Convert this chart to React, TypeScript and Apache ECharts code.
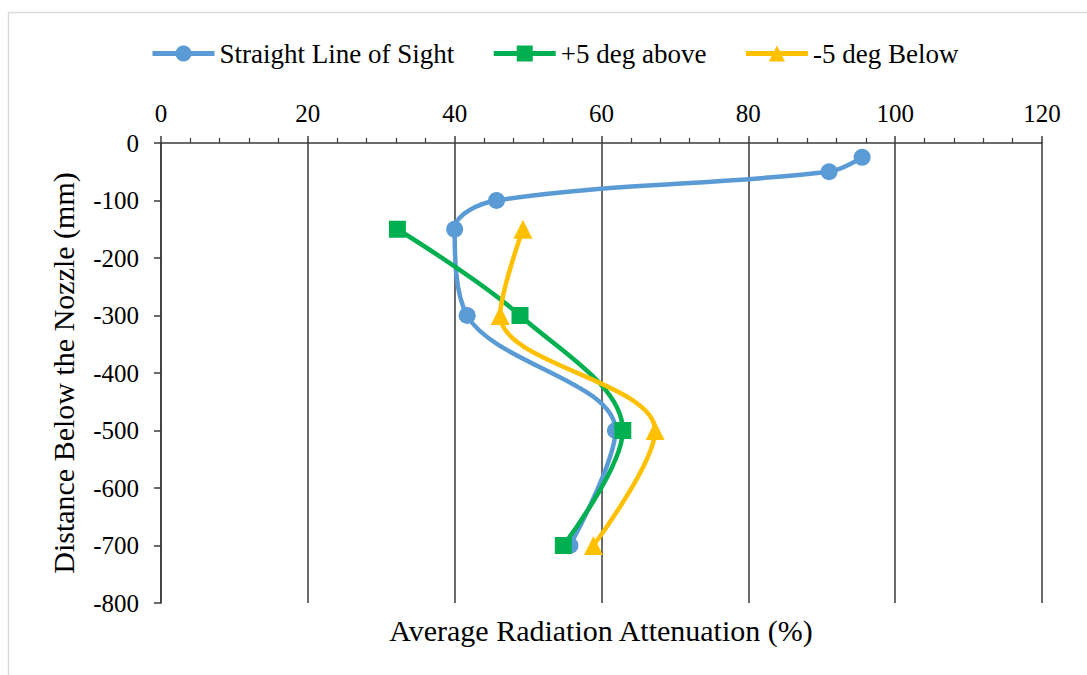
import React, { useEffect, useRef } from "react";
import * as echarts from "echarts";

// ---- data ----
const seriesNames = ["Straight Line of Sight", "+5 deg above", "-5 deg Below"];
const seriesColors = ["#5B9BD5", "#00B050", "#FFC000"];
const seriesSymbols = ["circle", "rect", "triangle"];

const depthSight = [-25, -50, -100, -150, -300, -500, -700];
const attenSight = [95.5, 91, 45.7, 40, 41.7, 61.9, 55.7];

const depthAbove = [-150, -300, -500, -700];
const attenAbove = [32.2, 48.9, 62.9, 54.8];

const depthBelow = [-150, -300, -500, -700];
const attenBelow = [49.3, 46.2, 67.3, 58.9];

const xTicks = [0, 20, 40, 60, 80, 100, 120];
const yTicks = [0, -100, -200, -300, -400, -500, -600, -700, -800];

const xTitle = "Average Radiation Attenuation (%)";
const yTitle = "Distance Below the Nozzle (mm)";

const FONT = "Liberation Serif";
const AXIS_COLOR = "#3a3a3a";

const pairs = (xs: number[], ys: number[]) => xs.map((x, i) => [x, ys[i]]);

export default function App() {
  const ref = useRef<HTMLDivElement>(null);

  useEffect(() => {
    if (!ref.current) return;
    const chart = echarts.init(ref.current, undefined, { renderer: "svg" });
    const allData = [
      pairs(attenSight, depthSight),
      pairs(attenAbove, depthAbove),
      pairs(attenBelow, depthBelow),
    ];
    const option: any = {
      animation: false,
      backgroundColor: "#ffffff",
      textStyle: { fontFamily: FONT, color: "#000" },
      legend: {
        left: 145,
        top: 35,
        itemWidth: 62,
        itemHeight: 20,
        itemGap: 37,
        lineStyle: { width: 5 },
        textStyle: { fontFamily: FONT, fontSize: 27, color: "#000" },
        data: seriesNames,
      },
      grid: { left: 161, top: 143, right: 45, bottom: 72, containLabel: false },
      xAxis: {
        type: "value",
        position: "top",
        min: xTicks[0],
        max: xTicks[xTicks.length - 1],
        interval: xTicks[1] - xTicks[0],
        axisLine: { show: true, onZero: false, lineStyle: { color: AXIS_COLOR, width: 1.5 } },
        axisTick: { show: true, inside: false, length: 7, lineStyle: { color: AXIS_COLOR, width: 1.5 } },
        minorTick: { show: true, splitNumber: 5, length: 5, lineStyle: { color: AXIS_COLOR, width: 1.2 } },
        splitLine: { show: true, lineStyle: { color: AXIS_COLOR, width: 1.5 } },
        axisLabel: { fontFamily: FONT, fontSize: 25, color: "#000", margin: 17 },
      },
      yAxis: {
        type: "value",
        min: yTicks[yTicks.length - 1],
        max: yTicks[0],
        interval: yTicks[0] - yTicks[1],
        name: yTitle,
        nameLocation: "middle",
        nameGap: 83,
        nameRotate: 90,
        nameTextStyle: { fontFamily: FONT, fontSize: 30, color: "#000" },
        axisLine: { show: true, onZero: false, lineStyle: { color: AXIS_COLOR, width: 1.5 } },
        axisTick: { show: true, inside: false, length: 7, lineStyle: { color: AXIS_COLOR, width: 1.5 } },
        splitLine: { show: false },
        axisLabel: { fontFamily: FONT, fontSize: 25, color: "#000", margin: 22 },
      },
      graphic: [
        {
          type: "rect",
          silent: true,
          z: -10,
          shape: { x: 8.5, y: 12.5, width: 1200, height: 900 },
          style: { fill: "none", stroke: "#d9d9d9", lineWidth: 1.5 },
        },
        {
          type: "text",
          x: 601,
          y: 630,
          style: {
            text: xTitle,
            fontFamily: FONT,
            fontSize: 30,
            fill: "#000",
            textAlign: "center",
            textVerticalAlign: "middle",
          },
        },
      ],
      series: seriesNames.map((name, i) => ({
        name,
        type: "line",
        data: allData[i],
        smooth: 0.35,
        symbol: seriesSymbols[i],
        symbolSize: i === 2 ? 19 : 17,
        showSymbol: true,
        lineStyle: { color: seriesColors[i], width: 4.5 },
        itemStyle: { color: seriesColors[i] },
        z: 2 + i,
      })),
    };
    chart.setOption(option);
    return () => chart.dispose();
  }, []);

  return (
    <div
      ref={ref}
      style={{ position: "fixed", left: 0, top: 0, width: 1087, height: 675, background: "#fff" }}
    />
  );
}
